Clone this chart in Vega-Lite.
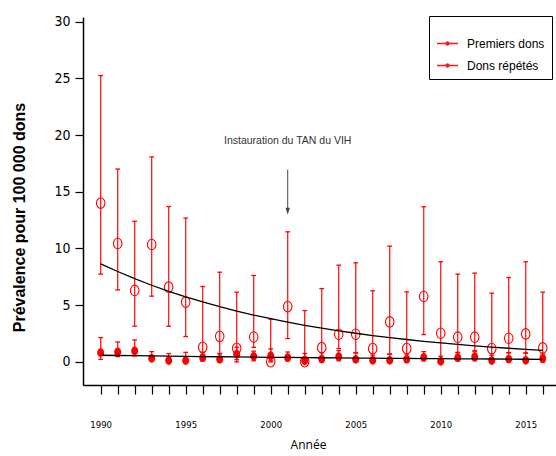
{
  "$schema": "https://vega.github.io/schema/vega-lite/v6.json",
  "width": 473,
  "height": 368,
  "autosize": {"type": "none"},
  "padding": {"left": 83, "top": 17, "right": 0, "bottom": 71},
  "background": "white",
  "config": {"view": {"stroke": null}, "font": "Liberation Sans"},
  "data": {"values": [
    {"a":1990,"s":"Premiers dons","v":14.0,"lo":7.74,"hi":25.24,"f":8.65},
    {"a":1991,"s":"Premiers dons","v":10.44,"lo":6.35,"hi":17.0,"f":7.97},
    {"a":1992,"s":"Premiers dons","v":6.3,"lo":3.15,"hi":12.4,"f":7.34},
    {"a":1993,"s":"Premiers dons","v":10.35,"lo":5.8,"hi":18.07,"f":6.76},
    {"a":1994,"s":"Premiers dons","v":6.59,"lo":3.15,"hi":13.7,"f":6.23},
    {"a":1995,"s":"Premiers dons","v":5.27,"lo":2.24,"hi":12.68,"f":5.74},
    {"a":1996,"s":"Premiers dons","v":1.29,"lo":0.1,"hi":6.65,"f":5.29},
    {"a":1997,"s":"Premiers dons","v":2.26,"lo":0.75,"hi":7.91,"f":4.87},
    {"a":1998,"s":"Premiers dons","v":1.2,"lo":0.0,"hi":6.15,"f":4.49},
    {"a":1999,"s":"Premiers dons","v":2.2,"lo":1.29,"hi":7.62,"f":4.13},
    {"a":2000,"s":"Premiers dons","v":0.03,"lo":0.0,"hi":3.77,"f":3.81},
    {"a":2001,"s":"Premiers dons","v":4.88,"lo":2.06,"hi":11.47,"f":3.51},
    {"a":2002,"s":"Premiers dons","v":0.03,"lo":0.0,"hi":4.53,"f":3.23},
    {"a":2003,"s":"Premiers dons","v":1.26,"lo":0.3,"hi":6.47,"f":2.98},
    {"a":2004,"s":"Premiers dons","v":2.44,"lo":1.18,"hi":8.53,"f":2.74},
    {"a":2005,"s":"Premiers dons","v":2.44,"lo":0.82,"hi":8.74,"f":2.53},
    {"a":2006,"s":"Premiers dons","v":1.18,"lo":0.0,"hi":6.27,"f":2.33},
    {"a":2007,"s":"Premiers dons","v":3.53,"lo":0.68,"hi":10.21,"f":2.14},
    {"a":2008,"s":"Premiers dons","v":1.18,"lo":0.0,"hi":6.18,"f":1.98},
    {"a":2009,"s":"Premiers dons","v":5.77,"lo":2.41,"hi":13.68,"f":1.82},
    {"a":2010,"s":"Premiers dons","v":2.53,"lo":0.0,"hi":8.83,"f":1.68},
    {"a":2011,"s":"Premiers dons","v":2.18,"lo":0.82,"hi":7.74,"f":1.55},
    {"a":2012,"s":"Premiers dons","v":2.18,"lo":1.0,"hi":7.83,"f":1.42},
    {"a":2013,"s":"Premiers dons","v":1.18,"lo":0.0,"hi":6.06,"f":1.31},
    {"a":2014,"s":"Premiers dons","v":2.09,"lo":0.82,"hi":7.44,"f":1.21},
    {"a":2015,"s":"Premiers dons","v":2.47,"lo":0.76,"hi":8.83,"f":1.11},
    {"a":2016,"s":"Premiers dons","v":1.24,"lo":0.5,"hi":6.15,"f":1.03},
    {"a":1990,"s":"Dons répétés","v":0.82,"lo":0.23,"hi":2.15,"f":0.59},
    {"a":1991,"s":"Dons répétés","v":0.88,"lo":0.47,"hi":1.76,"f":0.57},
    {"a":1992,"s":"Dons répétés","v":0.97,"lo":0.53,"hi":1.94,"f":0.55},
    {"a":1993,"s":"Dons répétés","v":0.32,"lo":0.1,"hi":0.91,"f":0.53},
    {"a":1994,"s":"Dons répétés","v":0.12,"lo":0.0,"hi":0.74,"f":0.51},
    {"a":1995,"s":"Dons répétés","v":0.12,"lo":0.0,"hi":0.85,"f":0.49},
    {"a":1996,"s":"Dons répétés","v":0.38,"lo":0.1,"hi":0.85,"f":0.47},
    {"a":1997,"s":"Dons répétés","v":0.23,"lo":0.0,"hi":0.7,"f":0.46},
    {"a":1998,"s":"Dons répétés","v":0.68,"lo":0.2,"hi":1.3,"f":0.44},
    {"a":1999,"s":"Dons répétés","v":0.5,"lo":0.1,"hi":0.95,"f":0.43},
    {"a":2000,"s":"Dons répétés","v":0.53,"lo":0.1,"hi":1.15,"f":0.41},
    {"a":2001,"s":"Dons répétés","v":0.38,"lo":0.1,"hi":0.88,"f":0.4},
    {"a":2002,"s":"Dons répétés","v":0.1,"lo":0.0,"hi":0.75,"f":0.38},
    {"a":2003,"s":"Dons répétés","v":0.26,"lo":0.0,"hi":0.8,"f":0.37},
    {"a":2004,"s":"Dons répétés","v":0.47,"lo":0.1,"hi":1.0,"f":0.36},
    {"a":2005,"s":"Dons répétés","v":0.23,"lo":0.0,"hi":0.8,"f":0.34},
    {"a":2006,"s":"Dons répétés","v":0.15,"lo":0.0,"hi":0.6,"f":0.33},
    {"a":2007,"s":"Dons répétés","v":0.15,"lo":0.0,"hi":0.7,"f":0.32},
    {"a":2008,"s":"Dons répétés","v":0.23,"lo":0.0,"hi":0.7,"f":0.31},
    {"a":2009,"s":"Dons répétés","v":0.41,"lo":0.1,"hi":0.91,"f":0.3},
    {"a":2010,"s":"Dons répétés","v":0.06,"lo":0.0,"hi":0.5,"f":0.29},
    {"a":2011,"s":"Dons répétés","v":0.38,"lo":0.1,"hi":0.85,"f":0.28},
    {"a":2012,"s":"Dons répétés","v":0.44,"lo":0.1,"hi":0.9,"f":0.27},
    {"a":2013,"s":"Dons répétés","v":0.12,"lo":0.0,"hi":0.6,"f":0.26},
    {"a":2014,"s":"Dons répétés","v":0.26,"lo":0.0,"hi":0.8,"f":0.25},
    {"a":2015,"s":"Dons répétés","v":0.15,"lo":0.0,"hi":0.8,"f":0.24},
    {"a":2016,"s":"Dons répétés","v":0.29,"lo":0.0,"hi":0.7,"f":0.23}
  ]},
  "encoding": {
    "x": {
      "field": "a", "type": "quantitative",
      "scale": {"domain": [1988.96, 2016.78], "nice": false, "zero": false},
      "axis": {
        "values": [1990,1991,1992,1993,1994,1995,1996,1997,1998,1999,2000,2001,2002,2003,2004,2005,2006,2007,2008,2009,2010,2011,2012,2013,2014,2015,2016],
        "format": "d",
        "labelExpr": "datum.value % 5 === 0 ? datum.label : ''",
        "grid": false, "tickSize": 9, "tickWidth": 1.2, "tickColor": "black",
        "domainColor": "black", "domainWidth": 1.5,
        "labelFont": "'DejaVu Sans Condensed', sans-serif",
        "labelFontSize": 9.5, "labelColor": "black", "labelPadding": 25,
        "labelFlush": false, "labelOverlap": false,
        "title": "Année", "titleFont": "Open Sans", "titleFontSize": 12,
        "titleFontWeight": "normal", "titleColor": "black",
        "titleX": 225, "titleY": 59, "titleBaseline": "middle"
      }
    }
  },
  "layer": [
    {
      "mark": {"type": "rule", "strokeWidth": 1.3, "opacity": 0.9},
      "encoding": {
        "y": {
          "field": "lo", "type": "quantitative",
          "scale": {"domain": [-2.03, 30.4], "nice": false, "zero": false},
          "axis": {
            "values": [0,5,10,15,20,25,30], "grid": false,
            "tickSize": 8, "tickWidth": 1.2, "tickColor": "black",
            "domainColor": "black", "domainWidth": 1.5,
            "labelFont": "'DejaVu Sans Condensed', sans-serif",
            "labelFontSize": 14, "labelColor": "black", "labelPadding": 5,
            "title": "Prévalence pour 100 000 dons",
            "titleFont": "Liberation Sans", "titleFontSize": 16, "titleFontWeight": "bold",
            "titleColor": "black", "titleAngle": -90, "titleX": -64, "titleY": 200,
            "titleBaseline": "middle", "titleAlign": "center"
          }
        },
        "y2": {"field": "hi"},
        "color": {
          "field": "s", "type": "nominal",
          "scale": {"domain": ["Premiers dons", "Dons répétés"], "range": ["#ff0000", "#ff0000"]},
          "legend": {
            "orient": "none", "legendX": 346, "legendY": -1,
            "title": " ", "titleFontSize": 8, "titlePadding": 1,
            "strokeColor": "black", "fillColor": "white", "padding": 7,
            "symbolType": "M-1,0L1,0M-0.15,0A0.15,0.15 0 1,1 0.15,0A0.15,0.15 0 1,1 -0.15,0",
            "symbolSize": 441, "symbolStrokeWidth": 1.3,
            "symbolFillColor": "#ff0000", "symbolStrokeColor": "#ff0000",
            "labelFont": "Liberation Sans",
            "labelFontSize": 12, "labelColor": "black", "rowPadding": 4, "labelOffset": 8
          }
        }
      }
    },
    {
      "mark": {"type": "point", "shape": "stroke", "size": 22, "strokeWidth": 1.3, "color": "#ff0000", "opacity": 1},
      "encoding": {"y": {"field": "hi", "type": "quantitative", "scale": {"domain": [-2.03, 30.4], "nice": false, "zero": false}}}
    },
    {
      "mark": {"type": "point", "shape": "stroke", "size": 22, "strokeWidth": 1.3, "color": "#ff0000", "opacity": 1},
      "encoding": {"y": {"field": "lo", "type": "quantitative", "scale": {"domain": [-2.03, 30.4], "nice": false, "zero": false}}}
    },
    {
      "transform": [{"filter": "datum.s === 'Premiers dons'"}],
      "mark": {"type": "point", "shape": "M0,-1.25A1,1.25 0 1,1 0,1.25A1,1.25 0 1,1 0,-1.25Z", "size": 72, "filled": false, "stroke": "#ff0000", "strokeWidth": 1.1, "opacity": 1},
      "encoding": {"y": {"field": "v", "type": "quantitative", "scale": {"domain": [-2.03, 30.4], "nice": false, "zero": false}}}
    },
    {
      "transform": [{"filter": "datum.s === 'Dons répétés'"}],
      "mark": {"type": "point", "shape": "M0,-1.25A1,1.25 0 1,1 0,1.25A1,1.25 0 1,1 0,-1.25Z", "size": 49, "filled": true, "fill": "#ff0000", "opacity": 1},
      "encoding": {"y": {"field": "v", "type": "quantitative", "scale": {"domain": [-2.03, 30.4], "nice": false, "zero": false}}}
    },
    {
      "mark": {"type": "line", "color": "black", "strokeWidth": 1.3},
      "encoding": {
        "y": {"field": "f", "type": "quantitative", "scale": {"domain": [-2.03, 30.4], "nice": false, "zero": false}},
        "detail": {"field": "s"}
      }
    },
    {
      "data": {"values": [{"a": 2001, "yy": 19.5, "t": "Instauration du TAN du VIH"}]},
      "mark": {"type": "text", "font": "Liberation Sans", "fontSize": 10.5, "color": "#333333", "baseline": "middle", "align": "center"},
      "encoding": {
        "y": {"field": "yy", "type": "quantitative", "scale": {"domain": [-2.03, 30.4], "nice": false, "zero": false}},
        "text": {"field": "t"}
      }
    },
    {
      "data": {"values": [{"a": 2001, "top": 16.95, "bot": 13.3}]},
      "mark": {"type": "rule", "color": "#444444", "strokeWidth": 1},
      "encoding": {
        "y": {"field": "top", "type": "quantitative", "scale": {"domain": [-2.03, 30.4], "nice": false, "zero": false}},
        "y2": {"field": "bot"}
      }
    },
    {
      "data": {"values": [{"a": 2001, "yy": 12.97}]},
      "mark": {"type": "point", "shape": "M-0.3,-1L0,0L0.3,-1Z", "size": 196, "filled": true, "fill": "#444444", "opacity": 1},
      "encoding": {
        "y": {"field": "yy", "type": "quantitative", "scale": {"domain": [-2.03, 30.4], "nice": false, "zero": false}}
      }
    }
  ]
}
